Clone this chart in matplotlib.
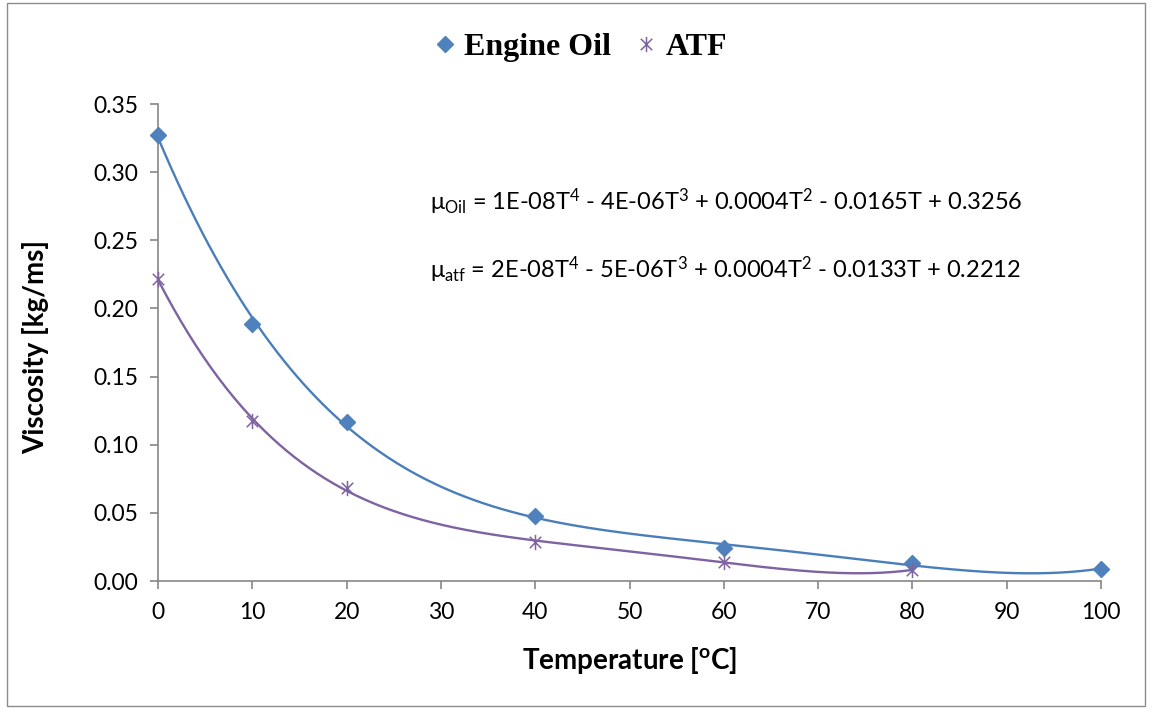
import numpy as np
import matplotlib
matplotlib.use("Agg")
import matplotlib.pyplot as plt
from matplotlib.path import Path
from matplotlib.patches import Rectangle

# ---- data ----
temp_oil = [0, 10, 20, 40, 60, 80, 100]
visc_oil = [0.327, 0.1886, 0.1167, 0.0478, 0.0242, 0.0132, 0.0088]
temp_atf = [0, 10, 20, 40, 60, 80]
visc_atf = [0.2216, 0.1174, 0.0683, 0.0287, 0.0140, 0.0081]
xticks = [0, 10, 20, 30, 40, 50, 60, 70, 80, 90, 100]
yticks = [0.00, 0.05, 0.10, 0.15, 0.20, 0.25, 0.30, 0.35]
eq_oil = r"$\mathregular{\mu_{Oil}}$ = 1E-08T$\mathregular{^4}$ - 4E-06T$\mathregular{^3}$ + 0.0004T$\mathregular{^2}$ - 0.0165T + 0.3256"
eq_atf = r"$\mathregular{\mu_{atf}}$ = 2E-08T$\mathregular{^4}$ - 5E-06T$\mathregular{^3}$ + 0.0004T$\mathregular{^2}$ - 0.0133T + 0.2212"

FONT = "Lato"
plt.rcParams["font.family"] = [FONT, "DejaVu Sans"]
plt.rcParams["mathtext.fontset"] = "custom"
plt.rcParams["mathtext.rm"] = FONT
plt.rcParams["mathtext.it"] = FONT + ":italic"
plt.rcParams["mathtext.bf"] = FONT + ":bold"

blue = "#4F81BD"
purple = "#8064A2"
gray = "#868686"

fig = plt.figure(figsize=(11.51, 7.09), dpi=100)
fig.patches.append(Rectangle((0.006, 0.004), 0.989, 0.992, transform=fig.transFigure,
                             fill=False, edgecolor="#8c8c8c", linewidth=1.0))
ax = fig.add_axes([0.1373, 0.1805, 0.8193, 0.6728])

# asterisk marker
ast = Path([(0, -1), (0, 1), (-0.75, -0.75), (0.75, 0.75), (-0.75, 0.75), (0.75, -0.75)],
           [Path.MOVETO, Path.LINETO, Path.MOVETO, Path.LINETO, Path.MOVETO, Path.LINETO])

# polynomial trendlines (order 4) fitted to the data
for t, v, c in [(temp_oil, visc_oil, "#4A7EBB"), (temp_atf, visc_atf, "#7E62A1")]:
    p = np.polyfit(t, v, 4)
    xs = np.linspace(min(t), max(t), 300)
    ax.plot(xs, np.polyval(p, xs), color=c, lw=1.7, zorder=2)

ax.plot(temp_oil, visc_oil, ls="none", marker="D", ms=8.5, color=blue, label="Engine Oil", zorder=3)
ax.plot(temp_atf, visc_atf, ls="none", marker=ast, ms=11, mew=1.1, color=purple, label="ATF", zorder=3)

ax.set_xlim(0, 100)
ax.set_ylim(0, 0.35)
ax.set_xticks(xticks)
ax.set_yticks(yticks)
ax.set_xticklabels([str(x) for x in xticks])
ax.set_yticklabels([f"{y:.2f}" for y in yticks])
for s in ["top", "right"]:
    ax.spines[s].set_visible(False)
for s in ["left", "bottom"]:
    ax.spines[s].set_color(gray)
    ax.spines[s].set_linewidth(1.2)
ax.tick_params(axis="both", direction="out", color=gray, width=1.2, length=6, labelsize=16.5, colors="black")
ax.tick_params(axis="x", pad=9)
ax.tick_params(axis="y", pad=8)
for l in ax.lines:
    l.set_clip_on(False)

ax.set_xlabel(r"Temperature [$\mathregular{^o}$C]", fontsize=20, fontweight="bold")
ax.set_ylabel("Viscosity [kg/ms]", fontsize=20, fontweight="bold")
ax.xaxis.set_label_coords(0.5, -0.166)
ax.yaxis.set_label_coords(-0.130, 0.49)
ax.xaxis.label.set_va("center")
ax.yaxis.label.set_va("center")

ax.text(0.288, 0.795, eq_oil, transform=ax.transAxes, fontsize=17, va="center", ha="left")
ax.text(0.288, 0.653, eq_atf, transform=ax.transAxes, fontsize=17, va="center", ha="left")

leg = fig.legend(loc="center", bbox_to_anchor=(0.502, 0.933), ncol=2, frameon=False,
                 prop={"family": "Liberation Serif", "weight": "bold", "size": 23},
                 handletextpad=0.1, columnspacing=0.6, handlelength=1.0)

fig.savefig("out.png", dpi=100)
